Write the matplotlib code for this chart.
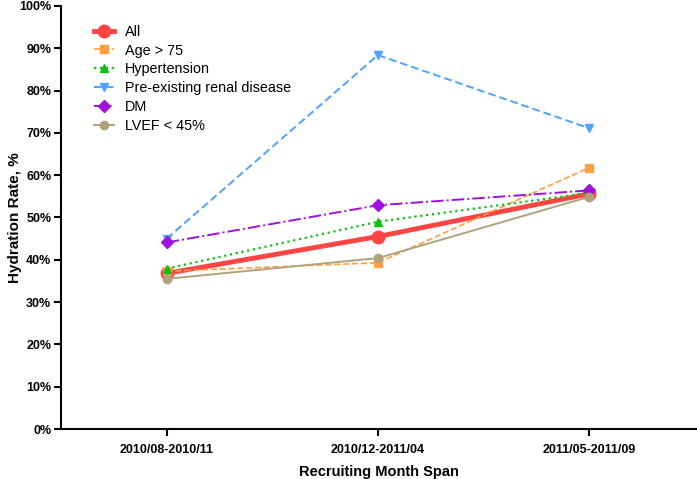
import matplotlib
matplotlib.use('Agg')
import matplotlib.pyplot as plt

plt.rcParams['font.family'] = ['Liberation Sans', 'DejaVu Sans']

# recruiting periods
periods = ['2010/08-2010/11', '2010/12-2011/04', '2011/05-2011/09']

# hydration rate (%) per subgroup
all_pts = [36.8, 45.5, 55.6]
age_over_75 = [37.3, 39.3, 61.8]
hypertension = [37.9, 49.0, 55.8]
renal_disease = [45.0, 88.4, 71.1]
dm = [44.1, 52.9, 56.4]
lvef_low = [35.5, 40.4, 54.9]

series = [
    ('All', all_pts, '#FF4444', '-', 'o', 3.5, 9),
    ('Age > 75', age_over_75, '#FFA040', '--', 's', 1.2, 6),
    ('Hypertension', hypertension, '#10C010', ':', '^', 1.6, 6),
    ('Pre-existing renal disease', renal_disease, '#4DA3FF', (0, (4, 2)), 'v', 1.4, 6),
    ('DM', dm, '#A010E0', '-.', 'D', 1.4, 6),
    ('LVEF < 45%', lvef_low, '#B0A27A', '-', 'o', 1.4, 6),
]

fig = plt.figure(figsize=(6.97, 4.79), dpi=100)
ax = fig.add_axes([61 / 697, 1 - 429 / 479, 636 / 697, 423 / 479])

x = list(range(len(periods)))
for label, vals, color, ls, marker, lw, ms in series:
    ax.plot(x, vals, color=color, linestyle=ls, marker=marker, linewidth=lw,
            markersize=ms, label=label)

ax.set_xlim(-0.5, 2.51)
ax.set_ylim(0, 100)
ax.set_xticks(x)
ax.set_xticklabels(periods, fontsize=9, fontweight='bold')
ax.set_yticks(range(0, 101, 10))
ax.set_yticklabels([f'{v}%' for v in range(0, 101, 10)], fontsize=9, fontweight='bold')
ax.tick_params(width=1.5, length=5, pad=2)
ax.tick_params(axis='x', pad=6)
for side in ['top', 'right']:
    ax.spines[side].set_visible(False)
for side in ['left', 'bottom']:
    ax.spines[side].set_linewidth(1.5)

ax.set_xlabel('Recruiting Month Span', fontsize=10.5, fontweight='bold', labelpad=6)
ax.set_ylabel('Hydration Rate, %', fontsize=11, fontweight='bold')
ax.yaxis.set_label_coords(-0.062, 0.5)

ax.legend(loc='upper left', bbox_to_anchor=(88 / 697, 1 - 19 / 479),
          bbox_transform=fig.transFigure, frameon=False, fontsize=10.4,
          borderaxespad=0, handlelength=1.4, handletextpad=0.76, labelspacing=0.33)

fig.savefig('out.png', dpi=100)
